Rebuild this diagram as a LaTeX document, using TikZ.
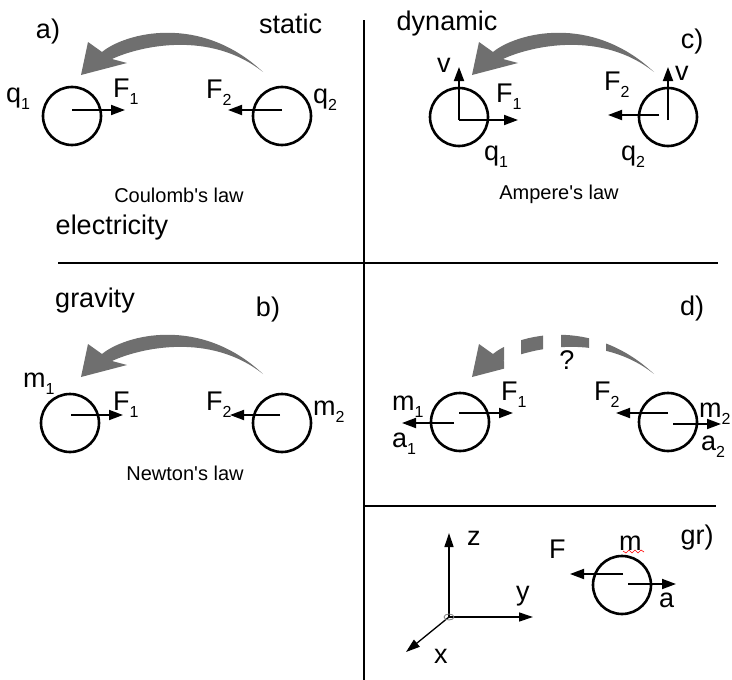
\documentclass[tikz,border=0pt]{standalone}
\usepackage{fontspec}
\setmainfont{Liberation Sans}[Ligatures=TeXOff]
\usetikzlibrary{arrows.meta, positioning}

\begin{document}
\begin{tikzpicture}[x=1pt, y=-1pt,
    ball/.style={circle, draw, line width=2.6pt, minimum size=58pt, inner sep=0pt},
    force/.style={line width=1.8pt, -{Triangle[length=14pt,width=10pt]}},
    axis/.style={line width=1.3pt, -{Triangle[length=14pt,width=9pt]}},
    lbl/.style={font=\fontsize{27}{27}\selectfont, inner sep=0pt, anchor=base west},
    word/.style={font=\fontsize{27}{27}\selectfont, inner sep=0pt},
    law/.style={font=\fontsize{20}{20}\selectfont, inner sep=0pt}]
    % Define colours and helpers
    \definecolor{arrowGrey}{HTML}{6F6F6F}
    \def\sub#1{\raisebox{-7pt}{\fontsize{16}{16}\selectfont #1}}
    \def\pullArrow{\fill[arrowGrey] (81,75) -- (88,42) -- (102,52)
        .. controls (125,33) and (200,13) .. (263,72)
        .. controls (210,30) and (140,46) .. (112,59) -- (127,63) -- cycle;}

    \useasboundingbox (0,0) rectangle (732,680);

    % Draw dividing lines
    \draw[line width=2.6pt] (364,20) -- (364,680);
    \draw[line width=2.6pt] (58,263) -- (718,263);
    \draw[line width=2.6pt] (364,506) -- (716,506);

    % Panel a: Coulomb
    \node[ball] (qa1) at (72,116) {};
    \node[ball] (qa2) at (282,116) {};
    \draw[force] (qa1.center) ++(0,-6) -- ++(53,0);
    \draw[force] (qa2.center) ++(0,-6) -- ++(-54,0);
    \pullArrow
    \node[word] (labA) at (48,32) {a)};
    \node[lbl] (static) at (259,33) {static};
    \node[lbl] (qaOne) at (6,102) {q\sub{1}};
    \node[lbl] (FaOne) at (113,97) {F\sub{1}};
    \node[lbl] (FaTwo) at (206,98) {F\sub{2}};
    \node[lbl] (qaTwo) at (313,103) {q\sub{2}};
    \node[law] (coulomb) at (179,195) {Coulomb's law};
    \node[word] (electricity) at (112,228) {electricity};

    % Panel b: Newton
    \node[ball] (mb1) at (70,423) {};
    \node[ball] (mb2) at (282,423) {};
    \draw[force] (mb1.center) ++(1,-8) -- ++(52,0);
    \draw[force] (mb2.center) ++(-2,-8) -- ++(-50,0);
    \begin{scope}[shift={(0,302)}]
        \pullArrow
    \end{scope}
    \node[word] (gravity) at (95,301) {gravity};
    \node[word] (labB) at (268,310) {b)};
    \node[lbl] (mbOne) at (23,387) {m\sub{1}};
    \node[lbl] (FbOne) at (113,410) {F\sub{1}};
    \node[lbl] (FbTwo) at (206,410) {F\sub{2}};
    \node[lbl] (mbTwo) at (313,415) {m\sub{2}};
    \node[law] (newton) at (185,473) {Newton's law};

    % Panel c: Ampere
    \node[ball] (qc1) at (459,117) {};
    \node[ball] (qc2) at (668,117) {};
    \draw[force] (qc1.center) ++(0,3) -- ++(0,-53);
    \draw[force] (qc1.center) ++(0,3) -- ++(59,0);
    \draw[force] (qc2.center) ++(0,3) -- ++(0,-53);
    \draw[force] (qc2.center) ++(-9,-2) -- ++(-51,0);
    \begin{scope}[shift={(391,0)}]
        \pullArrow
    \end{scope}
    \node[word] (dynamic) at (447,24) {dynamic};
    \node[word] (labC) at (692,42) {c)};
    \node[lbl] (vcOne) at (437,72) {v};
    \node[lbl] (FcOne) at (496,102) {F\sub{1}};
    \node[lbl] (qcOne) at (484,160) {q\sub{1}};
    \node[lbl] (FcTwo) at (604,90) {F\sub{2}};
    \node[lbl] (vcTwo) at (675,80) {v};
    \node[lbl] (qcTwo) at (621,160) {q\sub{2}};
    \node[law] (ampere) at (559,194) {Ampere's law};

    % Panel d: the open question
    \node[ball] (md1) at (460,422) {};
    \node[ball] (md2) at (668,422) {};
    \draw[force] (md1.center) ++(-1,-9) -- ++(54,0);
    \draw[force] (md1.center) ++(-6,1) -- ++(-52,0);
    \draw[force] (md2.center) ++(0,-9) -- ++(-52,0);
    \draw[force] (md2.center) ++(5,2) -- ++(48,0);
    \begin{scope}[shift={(391,302)}]
        \clip (60,20) rectangle (113,90) (130,20) rectangle (152,90)
              (170,20) rectangle (198,90) (215,20) rectangle (275,90);
        \pullArrow
    \end{scope}
    \node[word] (labD) at (692,309) {d)};
    \node[word] (query) at (567,360) {?};
    \node[lbl] (mdOne) at (392,410) {m\sub{1}};
    \node[lbl] (adOne) at (392,447) {a\sub{1}};
    \node[lbl] (FdOne) at (501,400) {F\sub{1}};
    \node[lbl] (FdTwo) at (594,400) {F\sub{2}};
    \node[lbl] (mdTwo) at (699,417) {m\sub{2}};
    \node[lbl] (adTwo) at (701,450) {a\sub{2}};

    % Panel gr: frame and single mass
    \coordinate (origin) at (449,617);
    \coordinate (zEnd) at (449,533);
    \coordinate (yEnd) at (533,617);
    \coordinate (xEnd) at (406,652);
    \draw[axis] (origin) -- (zEnd);
    \draw[axis] (origin) -- (yEnd);
    \draw[axis] (origin) -- (xEnd);
    \draw[gray, line width=0.8pt] (origin) ellipse (5 and 3);
    \node[ball] (mg) at (622,585) {};
    \draw[force] (mg.center) ++(1,-11) -- ++(-53,0);
    \draw[force] (mg.center) ++(6,-1) -- ++(48,0);
    \draw[red, line width=0.6pt] (623,551) -- (626,553) -- (629,550) -- (632,553)
        -- (635,550) -- (638,553) -- (641,550) -- (644,552);
    \node[word] (labGr) at (697,538) {gr)};
    \node[lbl] (zLab) at (467,545) {z};
    \node[lbl] (yLab) at (516,600) {y};
    \node[lbl] (xLab) at (434,663) {x};
    \node[lbl] (FgLab) at (549,558) {F};
    \node[lbl] (mgLab) at (619,550) {m};
    \node[lbl] (agLab) at (659,607) {a};

\end{tikzpicture}
\end{document}
